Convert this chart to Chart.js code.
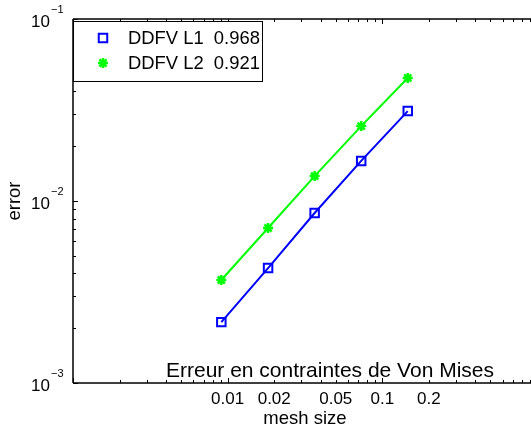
<!DOCTYPE html>
<html>
<head>
<meta charset="utf-8">
<script src="https://cdn.jsdelivr.net/npm/chart.js@4.4.1/dist/chart.umd.min.js"></script>
<style>
  html, body { margin: 0; padding: 0; background: #fff; overflow: hidden; }
  #wrap { width: 531px; height: 430px; overflow: hidden; }
  #wrap canvas { display: block; }
</style>
</head>
<body>
<div id="wrap"><canvas id="myChart" width="545" height="430"></canvas></div>
<script>
// data (log-log)
const meshSize = [0.0091, 0.01825, 0.0365, 0.073, 0.146];
const errL1 = [0.00216, 0.00428, 0.00859, 0.0166, 0.0312];
const errL2 = [0.00368, 0.00711, 0.0137, 0.0258, 0.0474];
const seriesNames = ['DDFV L1  0.968', 'DDFV L2  0.921'];
const xTickLabels = [0.01, 0.02, 0.05, 0.1, 0.2];
const yTickValues = [0.001, 0.01, 0.1];
const yTickExps = ['\u22123', '\u22122', '\u22121'];
const titleText = 'Erreur en contraintes de Von Mises';
const xTitle = 'mesh size';
const yTitle = 'error';

const FONT = '"Liberation Sans", Arial, Helvetica, sans-serif';

// minor tick values for the log axes
function logTicks(lo, hi) {
  let out = [];
  for (let e = lo; e < hi; e++) {
    for (let m = 1; m <= 9; m++) out.push(+(m * Math.pow(10, e)).toPrecision(3));
  }
  out.push(Math.pow(10, hi));
  return out;
}

const framePlugin = {
  id: 'frame',
  afterDatasetsDraw(chart) {
    const ctx = chart.ctx;
    const a = chart.chartArea;
    const xs = chart.scales.x, ys = chart.scales.y;
    ctx.save();
    ctx.strokeStyle = '#000';
    ctx.lineWidth = 1.5;
    ctx.beginPath();
    ctx.moveTo(a.left, a.top); ctx.lineTo(a.right + 10, a.top);
    ctx.moveTo(a.left, a.top); ctx.lineTo(a.left, a.bottom);
    ctx.moveTo(a.left, a.bottom); ctx.lineTo(a.right + 10, a.bottom);
    ctx.stroke();

    // inward ticks
    ctx.lineWidth = 1;
    ctx.beginPath();
    logTicks(-3, 0).forEach(v => {
      const px = Math.round(xs.getPixelForValue(v)) + 0.5;
      const len = String(v).match(/^(0\.0*1|1)$/) ? 5 : 3;
      ctx.moveTo(px, a.bottom); ctx.lineTo(px, a.bottom - len);
      ctx.moveTo(px, a.top); ctx.lineTo(px, a.top + len);
    });
    logTicks(-3, -1).forEach(v => {
      const py = Math.round(ys.getPixelForValue(v)) + 0.5;
      const len = String(v).match(/^0\.0*1$/) ? 5 : 3;
      ctx.moveTo(a.left, py); ctx.lineTo(a.left + len, py);
    });
    ctx.stroke();

    // y tick labels 10^k
    ctx.fillStyle = '#000';
    yTickValues.forEach((v, i) => {
      const py = ys.getPixelForValue(v);
      ctx.font = '17px ' + FONT;
      ctx.textAlign = 'right';
      ctx.textBaseline = 'middle';
      ctx.fillText('10', 50, py + 3);
      ctx.font = '11px ' + FONT;
      ctx.textAlign = 'left';
      ctx.fillText(yTickExps[i], 51, py - 9);
    });

    // axis titles
    ctx.font = '18.5px ' + FONT;
    ctx.textAlign = 'center';
    ctx.textBaseline = 'alphabetic';
    ctx.fillText(xTitle, (a.left + a.right) / 2, 424);
    ctx.save();
    ctx.translate(20, (a.top + a.bottom) / 2);
    ctx.rotate(-Math.PI / 2);
    ctx.fillText(yTitle, 0, 0);
    ctx.restore();

    // title inside the axes, near the bottom
    ctx.font = '21px ' + FONT;
    ctx.fillText(titleText, 330, 377);

    // legend box
    const lx = a.left, ly = a.top + 2, lw = 189, lh = 60;
    ctx.fillStyle = '#fff';
    ctx.fillRect(lx, ly, lw, lh);
    ctx.strokeStyle = '#000';
    ctx.lineWidth = 1;
    ctx.strokeRect(lx + 0.5, ly + 0.5, lw, lh);
    chart.data.datasets.forEach((ds, i) => {
      const cy = ly + 17 + i * 25;
      ctx.strokeStyle = ds.borderColor;
      ctx.fillStyle = ds.pointBackgroundColor;
      ctx.lineWidth = ds.pointBorderWidth;
      Chart.helpers.drawPoint(ctx, {
        pointStyle: ds.pointStyle, radius: ds.pointRadius, borderWidth: ds.pointBorderWidth, rotation: 0
      }, 103, cy);
      ctx.fillStyle = '#000';
      ctx.font = '18.4px ' + FONT;
      ctx.textAlign = 'left';
      ctx.textBaseline = 'middle';
      ctx.fillText(ds.label, 128, cy + 1);
    });
    ctx.restore();
  }
};

const ctx = document.getElementById('myChart').getContext('2d');
const chart = new Chart(ctx, {
  type: 'line',
  data: {
    datasets: [{
      label: seriesNames[0],
      data: meshSize.map((x, i) => ({ x: x, y: errL1[i] })),
      borderColor: '#0000ff',
      backgroundColor: 'rgba(0,0,0,0)',
      borderWidth: 2,
      pointStyle: 'rect',
      pointRadius: 6,
      pointBorderWidth: 2,
      pointBackgroundColor: 'rgba(0,0,0,0)'
    }, {
      label: seriesNames[1],
      data: meshSize.map((x, i) => ({ x: x, y: errL2[i] })),
      borderColor: '#00ff00',
      backgroundColor: '#00ff00',
      borderWidth: 2,
      pointStyle: 'star',
      pointRadius: 5,
      pointBorderWidth: 2.5,
      pointBackgroundColor: '#00ff00'
    }]
  },
  options: {
    responsive: false,
    animation: false,
    layout: { padding: { top: 19, right: 6, bottom: 0, left: 0 } },
    plugins: { legend: { display: false }, tooltip: { enabled: false } },
    scales: {
      x: {
        type: 'logarithmic',
        min: 0.001,
        max: 1,
        grid: { display: false, drawTicks: false },
        border: { display: false },
        afterBuildTicks: (s) => { s.ticks = xTickLabels.map(v => ({ value: v })); },
        afterFit: (s) => { s.height = 430 - 383; },
        ticks: {
          autoSkip: false,
          maxRotation: 0,
          padding: 6,
          color: '#000',
          font: { family: FONT, size: 17 },
          callback: (v) => String(v)
        }
      },
      y: {
        type: 'logarithmic',
        min: 0.001,
        max: 0.1,
        grid: { display: false, drawTicks: false },
        border: { display: false },
        ticks: { display: false },
        afterFit: (s) => { s.width = 73; }
      }
    }
  },
  plugins: [framePlugin]
});
</script>
</body>
</html>
